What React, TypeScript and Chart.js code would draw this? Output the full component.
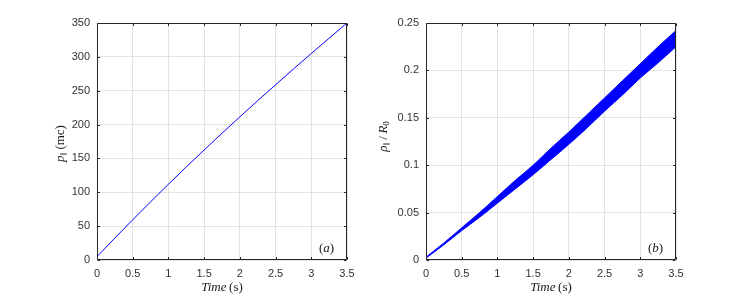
import React, { useEffect, useRef } from "react";
import { Chart, registerables } from "chart.js";
Chart.register(...registerables);

// ---- data ----
const timeS = [0, 0.25, 0.5, 0.75, 1, 1.25, 1.5, 1.75, 2, 2.25, 2.5, 2.75, 3, 3.25, 3.5];
const momentumPar = [5, 32.4, 59.4, 85.9, 111.9, 137.4, 162.5, 187.2, 211.4, 235.3, 258.8, 282.0, 304.9, 327.6, 350];
const rhoUpper = [0.003, 0.018, 0.034, 0.05, 0.067, 0.084, 0.1, 0.118, 0.135, 0.153, 0.171, 0.189, 0.207, 0.225, 0.242];
const rhoLower = [0.002, 0.016, 0.031, 0.045, 0.06, 0.075, 0.09, 0.106, 0.122, 0.139, 0.157, 0.174, 0.192, 0.208, 0.225];
const xTicks = [0, 0.5, 1, 1.5, 2, 2.5, 3, 3.5];
const yTicksA = [0, 50, 100, 150, 200, 250, 300, 350];
const yTicksB = [0, 0.05, 0.1, 0.15, 0.2, 0.25];

type Run = { text: string; font: string; dy?: number };

const SERIF = "'Liberation Serif', 'DejaVu Serif', serif";
const TICK_FONT = "'Liberation Sans', Arial, sans-serif";
const AXIS_COLOR = "#262626";
const GRID_COLOR = "#e3e3e3";

function drawRuns(ctx: CanvasRenderingContext2D, runs: Run[], cx: number, baseline: number) {
  let total = 0;
  for (const r of runs) {
    ctx.font = r.font;
    total += ctx.measureText(r.text).width;
  }
  let x = cx - total / 2;
  ctx.textAlign = "left";
  ctx.textBaseline = "alphabetic";
  for (const r of runs) {
    ctx.font = r.font;
    ctx.fillText(r.text, x, baseline + (r.dy || 0));
    x += ctx.measureText(r.text).width;
  }
}

function framePlugin(cfg: {
  xTitle: Run[];
  yTitle: Run[];
  yTitleX: number;
  yTitleDy: number;
  panel: Run[];
  yTicks: number[];
}) {
  return {
    id: "frame",
    afterDraw(chart: any) {
      const ctx: CanvasRenderingContext2D = chart.ctx;
      const a = chart.chartArea;
      const xs = chart.scales.x;
      const ys = chart.scales.y;
      ctx.save();
      ctx.strokeStyle = AXIS_COLOR;
      ctx.lineWidth = 1;
      const L = Math.round(a.left) + 0.5;
      const R = Math.round(a.right) - 0.5;
      const T = Math.round(a.top) + 0.5;
      const B = Math.round(a.bottom) - 0.5;
      ctx.beginPath();
      ctx.rect(L, T, R - L, B - T);
      ctx.stroke();
      const tl = 2.5;
      ctx.beginPath();
      for (const v of xTicks) {
        const px = Math.round(xs.getPixelForValue(v)) + 0.5;
        ctx.moveTo(px, B);
        ctx.lineTo(px, B - tl);
        ctx.moveTo(px, T);
        ctx.lineTo(px, T + tl);
      }
      for (const v of cfg.yTicks) {
        const py = Math.round(ys.getPixelForValue(v)) + 0.5;
        ctx.moveTo(L, py);
        ctx.lineTo(L + tl, py);
        ctx.moveTo(R, py);
        ctx.lineTo(R - tl, py);
      }
      ctx.stroke();
      ctx.fillStyle = "#1a1a1a";
      drawRuns(ctx, cfg.xTitle, (a.left + a.right) / 2, 291);
      ctx.save();
      ctx.translate(cfg.yTitleX, (a.top + a.bottom) / 2 + cfg.yTitleDy);
      ctx.rotate(-Math.PI / 2);
      drawRuns(ctx, cfg.yTitle, 0, 4);
      ctx.restore();
      drawRuns(ctx, cfg.panel, a.right - 20.5, a.bottom - 8);
      ctx.restore();
    },
  };
}

function scaleOpts(min: number, max: number, ticks: number[], size: number, axis: "x" | "y") {
  return {
    type: "linear" as const,
    min,
    max,
    afterBuildTicks: (s: any) => {
      s.ticks = ticks.map((v) => ({ value: v }));
    },
    afterFit: (s: any) => {
      if (axis === "x") s.height = size;
      else s.width = size;
    },
    grid: { color: GRID_COLOR, lineWidth: 1, drawTicks: false },
    border: { display: false },
    ticks: {
      padding: 7,
      color: "#333333",
      font: { family: TICK_FONT, size: 11 },
      maxRotation: 0,
      autoSkip: false,
      callback: (v: any) => String(v),
    },
  };
}

export default function App() {
  const c1 = useRef<HTMLCanvasElement>(null);
  const c2 = useRef<HTMLCanvasElement>(null);

  useEffect(() => {
    const italic = `italic 13px ${SERIF}`;
    const upright = `13px ${SERIF}`;
    const sub = `7px 'DejaVu Serif', ${SERIF}`;
    const subSerif = `9px ${SERIF}`;
    const timeTitle: Run[] = [
      { text: "Time", font: italic },
      { text: "\u2009(s)", font: upright },
    ];

    const chartA = new Chart(c1.current!, {
      type: "line",
      data: {
        datasets: [
          {
            data: timeS.map((t, i) => ({ x: t, y: momentumPar[i] })),
            borderColor: "#0000ff",
            borderWidth: 1,
            pointRadius: 0,
            cubicInterpolationMode: "monotone",
            fill: false,
          },
        ],
      },
      options: {
        animation: false,
        responsive: false,
        devicePixelRatio: 1,
        layout: { padding: { left: 0, right: 26, top: 23, bottom: 0 } },
        plugins: { legend: { display: false }, tooltip: { enabled: false } },
        scales: {
          x: scaleOpts(0, 3.5, xTicks, 37, "x"),
          y: scaleOpts(0, 350, yTicksA, 97, "y"),
        },
      } as any,
      plugins: [
        framePlugin({
          xTitle: timeTitle,
          yTitle: [
            { text: "p", font: italic },
            { text: "\u2225", font: sub, dy: 2 },
            { text: "\u2009(mc)", font: upright },
          ],
          yTitleX: 60,
          yTitleDy: 2,
          panel: [
            { text: "(", font: upright },
            { text: "a", font: italic },
            { text: ")", font: upright },
          ],
          yTicks: yTicksA,
        }),
      ],
    });

    const chartB = new Chart(c2.current!, {
      type: "line",
      data: {
        datasets: [
          {
            data: timeS.map((t, i) => ({ x: t, y: rhoUpper[i] })),
            borderColor: "#0000ff",
            backgroundColor: "#0000ff",
            borderWidth: 1,
            pointRadius: 0,
            cubicInterpolationMode: "monotone",
            fill: "+1",
          },
          {
            data: timeS.map((t, i) => ({ x: t, y: rhoLower[i] })),
            borderColor: "#0000ff",
            borderWidth: 1,
            pointRadius: 0,
            cubicInterpolationMode: "monotone",
            fill: false,
          },
        ],
      },
      options: {
        animation: false,
        responsive: false,
        devicePixelRatio: 1,
        layout: { padding: { left: 0, right: 71, top: 23, bottom: 0 } },
        plugins: { legend: { display: false }, tooltip: { enabled: false }, filler: { propagate: false } },
        scales: {
          x: scaleOpts(0, 3.5, xTicks, 37, "x"),
          y: scaleOpts(0, 0.25, yTicksB, 53, "y"),
        },
      } as any,
      plugins: [
        framePlugin({
          xTitle: timeTitle,
          yTitle: [
            { text: "\u03c1", font: italic },
            { text: "\u2225", font: sub, dy: 2 },
            { text: "\u2009/\u2009", font: upright },
            { text: "R", font: italic },
            { text: "0", font: subSerif, dy: 2 },
          ],
          yTitleX: 10,
          yTitleDy: -5,
          panel: [
            { text: "(", font: upright },
            { text: "b", font: italic },
            { text: ")", font: upright },
          ],
          yTicks: yTicksB,
        }),
      ],
    });

    return () => {
      chartA.destroy();
      chartB.destroy();
    };
  }, []);

  return (
    <div style={{ position: "fixed", left: 0, top: 0, width: 747, height: 297, background: "#fff" }}>
      <canvas
        ref={c1}
        width={373}
        height={297}
        style={{ position: "absolute", left: 0, top: 0, width: 373, height: 297 }}
      />
      <canvas
        ref={c2}
        width={374}
        height={297}
        style={{ position: "absolute", left: 373, top: 0, width: 374, height: 297 }}
      />
    </div>
  );
}
